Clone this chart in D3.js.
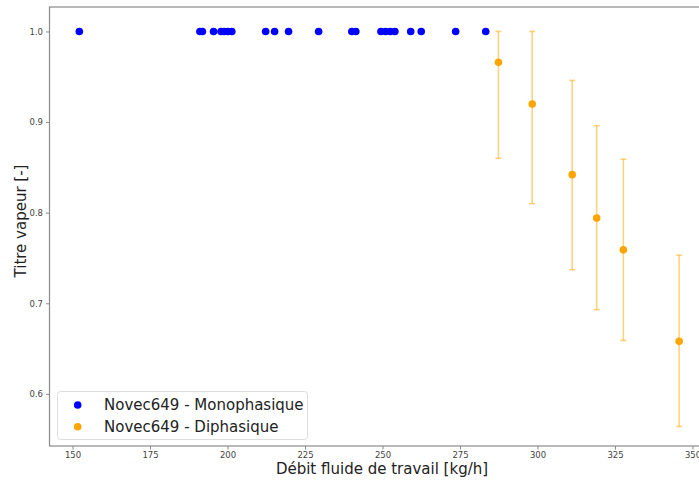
<!DOCTYPE html>
<html>
<head>
<meta charset="utf-8">
<script src="https://cdn.jsdelivr.net/npm/d3@7"></script>
<style>
  html, body { margin: 0; padding: 0; background: #fff; }
  svg { display: block; font-family: "DejaVu Sans", sans-serif; }
</style>
</head>
<body>
<svg id="chart" width="699" height="481"></svg>
<script>
// Data
const monoX = [152.2, 191.1, 191.9, 195.5, 197.9, 198.9, 200.1, 201.4, 212.3, 215.2, 219.7, 229.4, 240.1, 241.4, 249.5, 251.0, 252.5, 254.0, 259.1, 262.5, 273.6, 283.3];
const monoY = monoX.map(() => 1.0);
const diX = [287.4, 298.3, 311.2, 319.1, 327.7, 345.7];
const diY = [0.966, 0.920, 0.842, 0.794, 0.759, 0.658];
const diLow = [0.860, 0.810, 0.737, 0.693, 0.659, 0.564];
const diHigh = [1.000, 1.000, 0.946, 0.896, 0.859, 0.753];
const xTicks = [150, 175, 200, 225, 250, 275, 300, 325, 350];
const yTicks = [0.6, 0.7, 0.8, 0.9, 1.0];
const legendLabels = ["Novec649 - Monophasique", "Novec649 - Diphasique"];
const colors = ["#0000ff", "#ffa500"];

const svg = d3.select("#chart");
const L = 49.5, R = 710, T = 7, B = 446;
const x = d3.scaleLinear().domain([142.58, 355.65]).range([L, R]);
const y = d3.scaleLinear().domain([0.5425, 1.027]).range([B, T]);

// Frame
svg.append("rect").attr("x", L).attr("y", T).attr("width", R - L).attr("height", B - T)
  .attr("fill", "none").attr("stroke", "#8a8a8a").attr("stroke-width", 1.2);

// Axes
const xAxis = svg.append("g").attr("transform", `translate(0,${B})`)
  .call(d3.axisBottom(x).tickValues(xTicks).tickFormat(d3.format("d")).tickSize(3.5).tickPadding(2.5));
const yAxis = svg.append("g").attr("transform", `translate(${L},0)`)
  .call(d3.axisLeft(y).tickValues(yTicks).tickFormat(d3.format(".1f")).tickSize(3.5).tickPadding(3));
[xAxis, yAxis].forEach(g => {
  g.select(".domain").remove();
  g.selectAll(".tick line").attr("stroke", "#8a8a8a");
  g.selectAll(".tick text").attr("fill", "#444").attr("font-size", 8.5).attr("font-family", "DejaVu Sans, sans-serif");
});

// Error bars
const eb = svg.append("g").attr("stroke", "#ffa500").attr("stroke-opacity", 0.5).attr("stroke-width", 1.6);
diX.forEach((d, i) => {
  eb.append("line").attr("x1", x(d)).attr("x2", x(d)).attr("y1", y(diLow[i])).attr("y2", y(diHigh[i]));
  [diLow[i], diHigh[i]].forEach(v => {
    eb.append("line").attr("x1", x(d) - 3).attr("x2", x(d) + 3).attr("y1", y(v)).attr("y2", y(v));
  });
});

// Points
svg.append("g").selectAll("circle").data(monoX).join("circle")
  .attr("cx", d => x(d)).attr("cy", (d, i) => y(monoY[i])).attr("r", 3.8).attr("fill", colors[0]);
svg.append("g").selectAll("circle").data(diX).join("circle")
  .attr("cx", d => x(d)).attr("cy", (d, i) => y(diY[i])).attr("r", 3.8).attr("fill", colors[1]);

// Axis labels
svg.append("text").attr("x", 382).attr("y", 474).attr("text-anchor", "middle")
  .attr("font-size", 15).attr("fill", "#222").text("Débit fluide de travail [kg/h]");
svg.append("text").attr("transform", "translate(26,221) rotate(-90)").attr("text-anchor", "middle")
  .attr("font-size", 15).attr("fill", "#222").text("Titre vapeur [-]");

// Legend
const lg = svg.append("g");
lg.append("rect").attr("x", 57.5).attr("y", 391.5).attr("width", 250).attr("height", 48).attr("rx", 3)
  .attr("fill", "#fff").attr("fill-opacity", 0.8).attr("stroke", "#ddd");
legendLabels.forEach((t, i) => {
  const cy = 405 + i * 21.7;
  lg.append("circle").attr("cx", 77.7).attr("cy", cy).attr("r", 3.8).attr("fill", colors[i]);
  lg.append("text").attr("x", 104).attr("y", cy + 5.3).attr("font-size", 15).attr("fill", "#222").text(t);
});
</script>
</body>
</html>
